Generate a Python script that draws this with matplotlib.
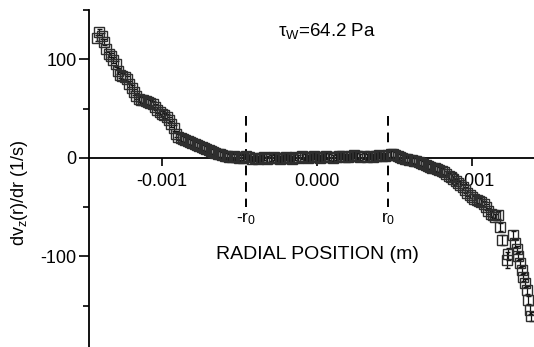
import numpy as np
import matplotlib
matplotlib.use('Agg')
import matplotlib.pyplot as plt
from matplotlib.ticker import MultipleLocator, FormatStrFormatter

plt.rcParams['font.family'] = ['Liberation Sans', 'DejaVu Sans']
plt.rcParams['mathtext.fontset'] = 'custom'
plt.rcParams['mathtext.rm'] = 'Liberation Sans'
plt.rcParams['mathtext.it'] = 'Liberation Sans'
plt.rcParams['mathtext.bf'] = 'Liberation Sans:bold'
plt.rcParams['axes.unicode_minus'] = False

# radial position in micrometres
r_um = [-1420, -1405, -1390, -1375, -1360, -1345, -1330, -1315, -1300, -1285,
        -1270, -1255, -1240, -1225, -1210, -1195, -1180, -1165, -1150, -1135,
        -1120, -1105, -1090, -1075, -1060, -1045, -1030, -1015, -1000, -985,
        -970, -955, -940, -925, -910, -895, -880, -865, -850, -835,
        -820, -805, -790, -775, -760, -745, -730, -715, -700, -685,
        -670, -655, -640, -625, -610, -595, -580, -565, -550, -535,
        -520, -505, -490, -475, -460,
        -440, -420, -400, -380, -360, -340, -320, -300, -280, -260,
        -240, -220, -200, -180, -160, -140, -120, -100, -80, -60,
        -40, -20, 0, 20, 40, 60, 80, 100, 120, 140,
        160, 180, 200, 220, 240, 260, 280, 300, 320, 340,
        360, 380, 400, 420, 440, 460, 475,
        490, 505, 520, 535, 550, 565, 580, 595, 610, 625,
        640, 655, 670, 685, 700, 715, 730, 745, 760, 775,
        790, 805, 820, 835, 850, 865, 880, 895, 910, 925,
        940, 955, 970, 985, 1000, 1015, 1030, 1045, 1060, 1075,
        1090, 1105, 1120, 1135, 1150, 1168, 1181, 1194, 1226, 1230,
        1265, 1277, 1290, 1297, 1310, 1323, 1329, 1342, 1355, 1361,
        1374, 1381]

# shear rate dv_z/dr (1/s)
dvdr = [122, 128, 124, 118, 110, 105, 103, 99, 95, 88,
        84, 83, 82, 80, 75, 71, 67, 63, 60, 59,
        59, 58, 57, 56, 55, 52, 49, 47, 45, 43,
        41, 38, 34, 30, 24, 21, 20, 19, 18, 17,
        16, 15, 14, 13, 12, 11, 10, 9, 8, 7,
        6, 5, 4, 4, 3, 2, 2, 1, 1, 2,
        1, 0, 1, 0, 2,
        1, -1, 0, -1, 0, 1, -1, 0, 1, 0,
        -1, 0, 1, 0, -1, 1, 0, 2, 1, 0,
        1, 2, 1, 0, 1, 2, 1, 0, 1, 2,
        2, 1, 1, 2, 3, 2, 1, 2, 1, 2,
        1, 2, 3, 2, 2, 3, 4,
        4, 3, 2, 1, 0, -1, -1, -2, -2, -3,
        -3, -4, -5, -6, -7, -8, -9, -10, -10, -11,
        -12, -13, -14, -16, -18, -19, -21, -24, -26, -28,
        -30, -33, -36, -38, -40, -42, -43, -44, -45, -47,
        -50, -54, -57, -58, -60, -58, -70, -83, -104, -98,
        -78, -86, -93, -100, -107, -114, -121, -127, -134, -144,
        -154, -161]

# error bars: small everywhere, larger in the tail
err = [3] * (len(dvdr) - 17) + [4, 4, 5, 8, 6, 4, 4, 4, 4, 4, 4, 4, 4, 4, 4, 5, 5]

r0 = 0.00046
tau_label = r'$\tau_W$=64.2 Pa'

x = np.array(r_um) * 1e-6
y = np.array(dvdr)

fig = plt.figure(figsize=(5.34, 3.47), dpi=100)
ax = fig.add_axes([0.1667, 0.0, 0.8333, 0.971])

ax.errorbar(x, y, yerr=err, fmt='s', ms=6.5, mfc='none', mec='#2e2e2e',
            mew=1.0, ecolor='#111111', elinewidth=0.9, capsize=1.8,
            capthick=0.9, zorder=3)

# dashed markers at -r0 and r0
for xv in (-r0, r0):
    ax.plot([xv, xv], [42, -50], color='black', lw=1.4,
            linestyle=(0, (5, 3.5)), zorder=2)
ax.text(-r0, -62, r'-r$_0$', ha='center', va='center', fontsize=12.5)
ax.text(r0, -62, r'r$_0$', ha='center', va='center', fontsize=12.5)

ax.text(0, -98, 'RADIAL POSITION (m)', ha='center', va='center', fontsize=14)
ax.text(-0.00025, 129, tau_label, ha='left', va='center', fontsize=13.5)

ax.set_xlim(-0.001471, 0.0014)
ax.set_ylim(-192, 150)

ax.spines['top'].set_visible(False)
ax.spines['right'].set_visible(False)
ax.spines['bottom'].set_position(('data', 0))
ax.spines['bottom'].set_linewidth(1.3)
ax.spines['left'].set_linewidth(1.3)

ax.set_xticks([-0.001, 0.0, 0.001])
ax.xaxis.set_major_formatter(FormatStrFormatter('%.3f'))
ax.yaxis.set_major_locator(MultipleLocator(100))
ax.yaxis.set_minor_locator(MultipleLocator(50))
ax.tick_params(axis='x', direction='out', length=6, width=1.2, labelsize=13, pad=5)
ax.tick_params(axis='y', which='major', direction='out', length=7, width=1.2,
               labelsize=13, pad=2)
ax.tick_params(axis='y', which='minor', direction='out', length=4, width=1.2)

fig.text(0.037, 0.444, r'dv$_z$(r)/dr (1/s)', rotation=90, ha='center',
         va='center', fontsize=13)

fig.savefig('out.png', dpi=100)
